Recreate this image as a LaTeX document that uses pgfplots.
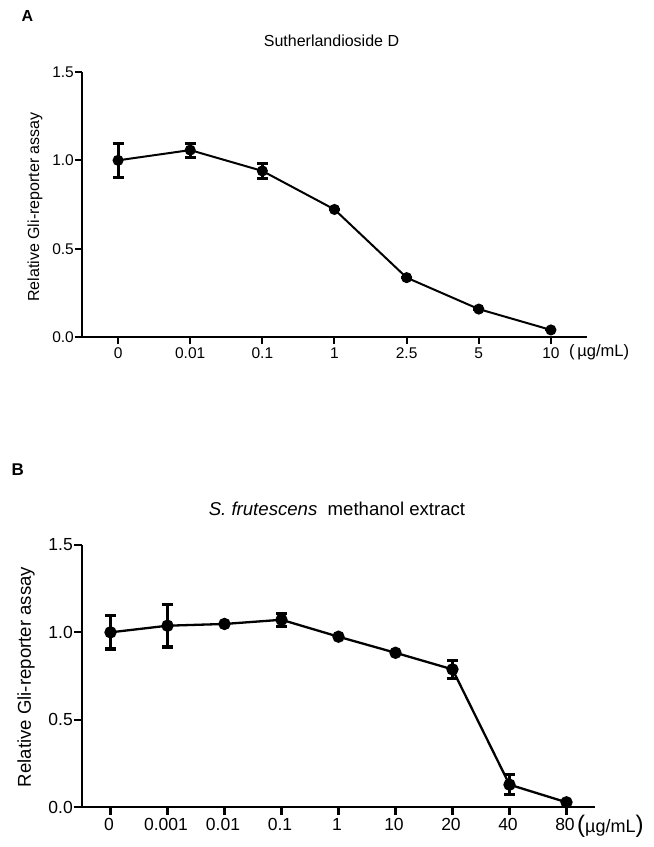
\documentclass[border=0pt]{standalone}
\usepackage{pgfplots}
\pgfplotsset{compat=1.18}
\usepackage{pgfplotstable}
\usepackage{fontspec}
\setmainfont{Liberation Sans}

\pgfplotstableread{
x y e
0 1.000 0.095
1 1.058 0.040
2 0.940 0.043
3 0.722 0
4 0.336 0
5 0.158 0
6 0.040 0
}\dataA

\pgfplotstableread{
x y e
0 1.000 0.095
1 1.038 0.122
2 1.048 0
3 1.072 0.037
4 0.975 0
5 0.883 0
6 0.788 0.052
7 0.128 0.057
8 0.027 0
}\dataB

\pgfplotsset{
  numfmt/.style={
    /pgf/number format/fixed,
    /pgf/number format/fixed zerofill,
    /pgf/number format/precision=1,
    /pgf/number format/assume math mode=true}
}

\begin{document}
\begin{tikzpicture}[x=1pt,y=1pt]
\path[use as bounding box] (0pt,0pt) rectangle (654pt,-847pt);

% ---------- Panel A ----------
\begin{axis}[
  at={(82pt,-337pt)}, anchor=south west,
  scale only axis, width=505pt, height=265pt,
  xmin=-0.5, xmax=6.5, ymin=0, ymax=1.5,
  axis x line*=bottom, axis y line*=left,
  axis line style={-, line width=2.3pt, black},
  xtick={0,...,6}, xticklabels={0,0.01,0.1,1,2.5,5,10},
  ytick={0,0.5,1,1.5},
  tick align=outside, major tick length=7pt,
  tick style={line width=2pt, black},
  numfmt,
  tick label style={font=\fontsize{15.5}{18}\selectfont},
  yticklabel style={inner sep=1pt},
  clip=false,
]
\addplot[black, line width=2pt, mark=*, mark size=4.5pt,
  error bars/.cd, y dir=both, y explicit,
  error bar style={line width=3pt},
  error mark options={rotate=90, mark size=5.5pt, line width=3pt}]
  table[x=x, y=y, y error=e] {\dataA};
\end{axis}
\node[font=\fontsize{16}{19}\selectfont\bfseries, anchor=base west] at (18pt,-21.7pt) {A};
\node[font=\fontsize{16}{19}\selectfont, anchor=base] at (331.5pt,-46.7pt) {Sutherlandioside D};
\node[font=\fontsize{16}{19}\selectfont, rotate=90, anchor=center] at (35pt,-207pt) {Relative Gli-reporter assay};
\node[font=\fontsize{16.5}{19}\selectfont, anchor=base west, inner sep=0pt] at (569pt,-356pt) {(\,µg/mL)};

% ---------- Panel B ----------
\begin{axis}[
  at={(82pt,-807pt)}, anchor=south west,
  scale only axis, width=513pt, height=262pt,
  xmin=-0.5, xmax=8.5, ymin=0, ymax=1.5,
  axis x line*=bottom, axis y line*=left,
  axis line style={-, line width=2.5pt, black},
  xtick={0,...,8}, xticklabels={0,0.001,0.01,0.1,1,10,20,40,80},
  ytick={0,0.5,1,1.5},
  tick align=outside, major tick length=8pt,
  tick style={line width=2.2pt, black},
  numfmt,
  tick label style={font=\fontsize{17.5}{21}\selectfont},
  xticklabel style={xshift=-1.5pt},
  yticklabel style={inner sep=1pt},
  clip=false,
]
\addplot[black, line width=2.3pt, mark=*, mark size=5pt,
  error bars/.cd, y dir=both, y explicit,
  error bar style={line width=3.3pt},
  error mark options={rotate=90, mark size=5.5pt, line width=3.3pt}]
  table[x=x, y=y, y error=e] {\dataB};
\end{axis}
\node[font=\fontsize{17}{20}\selectfont\bfseries, anchor=base west] at (8pt,-475pt) {B};
\node[font=\fontsize{18.6}{22}\selectfont, anchor=base] at (337pt,-515pt) {\textit{S. frutescens}\ \ methanol extract};
\node[font=\fontsize{18.6}{22}\selectfont, rotate=90, anchor=center] at (26pt,-677pt) {Relative Gli-reporter assay};
\node[font=\fontsize{18}{21}\selectfont, anchor=base west, inner sep=0pt] at (577pt,-832pt) {{\fontsize{24}{26}\selectfont(}µg/mL{\fontsize{24}{26}\selectfont)}};
\end{tikzpicture}
\end{document}
